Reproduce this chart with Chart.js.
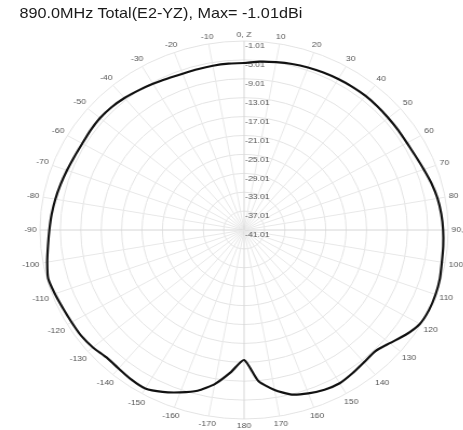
<!DOCTYPE html>
<html>
<head>
<meta charset="utf-8">
<script src="https://cdn.jsdelivr.net/npm/chart.js@4.4.0/dist/chart.umd.min.js"></script>
<style>
  html, body { margin: 0; padding: 0; background: #fff; overflow: hidden; }
  #wrap { position: relative; width: 429px; height: 430px; transform: scaleX(1.08); transform-origin: 0 0; }
  #title { position: absolute; left: 18px; top: 4px; font: 15px "Liberation Sans", Arial, sans-serif; color: #1a1a1a; white-space: nowrap; }
  canvas { position: absolute; left: 0; top: 0; }
</style>
</head>
<body>
<div id="wrap">
  <div id="title">890.0MHz Total(E2-YZ), Max= -1.01dBi</div>
  <canvas id="chart" width="429" height="430"></canvas>
</div>
<script>
// angle labels every 10 deg, clockwise from the top
const angleTicks = ['0, Z', '10', '20', '30', '40', '50', '60', '70', '80', '90, Y',
  '100', '110', '120', '130', '140', '150', '160', '170', '180',
  '-170', '-160', '-150', '-140', '-130', '-120', '-110', '-100', '-90',
  '-80', '-70', '-60', '-50', '-40', '-30', '-20', '-10'];

// ring labels (dBi)
const ringTicks = [-41.01, -37.01, -33.01, -29.01, -25.01, -21.01, -17.01, -13.01, -9.01, -5.01, -1.01];

// measured gain, every 5 deg from 0 to 355
const gainDbi = [
  -5.67, -5.24, -4.94, -4.63, -4.40, -4.25, -4.12, -4.03, -3.97, -4.03,
  -4.12, -4.15, -4.16, -3.95, -3.53, -2.98, -2.52, -2.22, -2.01, -1.84,
  -1.66, -1.29, -1.08, -1.01, -1.25, -2.35, -3.75, -4.70, -4.46, -3.99,
  -3.55, -3.72, -4.23, -4.95, -6.62, -8.95, -13.50,
  -10.75, -7.89, -5.79, -4.44, -3.19, -2.26, -2.41, -2.75, -2.88, -2.34,
  -2.02, -1.98, -1.84, -1.54, -1.26, -1.83, -2.43, -2.85, -3.15, -3.45,
  -3.78, -4.08, -4.31, -4.40, -4.26, -4.16, -4.26, -4.54, -4.94, -5.29,
  -5.62, -5.81, -5.79, -5.71, -5.67
];

// one spoke per data point, text only on the 10 deg spokes
const spokes = gainDbi.map((v, i) => (i % 2 ? '' : angleTicks[i / 2]));

const FONT = '"Liberation Sans", Arial, sans-serif';

const polarLabels = {
  id: 'polarLabels',
  beforeDatasetsDraw(chart) {
    const r = chart.scales.r;
    const ctx = chart.ctx;
    ctx.save();
    ctx.font = '8px ' + FONT;
    ctx.fillStyle = '#555';
    ctx.textAlign = 'left';
    ctx.textBaseline = 'middle';
    ringTicks.forEach(v => {
      const d = r.getDistanceFromCenterForValue(v);
      ctx.fillText(v.toFixed(2), r.xCenter + 1, r.yCenter - d + 5);
    });
    ctx.restore();
  },
  afterDraw(chart) {
    const r = chart.scales.r;
    const ctx = chart.ctx;
    ctx.save();
    ctx.font = '8px ' + FONT;
    ctx.fillStyle = '#555';
    ctx.textAlign = 'center';
    ctx.textBaseline = 'middle';
    angleTicks.forEach((text, i) => {
      const p = r.getPointPosition(i * 2, 100);
      const ux = (p.x - r.xCenter) / 100;
      const uy = (p.y - r.yCenter) / 100;
      const w = ctx.measureText(text).width;
      const half = Math.abs(ux) * w / 2 + Math.abs(uy) * 3.5;
      const q = r.getPointPosition(i * 2, r.drawingArea + 3 + half);
      ctx.fillText(text, q.x, q.y);
    });
    ctx.restore();
  }
};

new Chart(document.getElementById('chart'), {
  type: 'radar',
  data: {
    labels: spokes,
    datasets: [{
      data: gainDbi,
      borderColor: '#111',
      borderWidth: 2.2,
      pointRadius: 0,
      fill: false,
      tension: 0.2
    }]
  },
  options: {
    responsive: false,
    animation: false,
    devicePixelRatio: 1,
    layout: { padding: { left: 37, right: 14, top: 41, bottom: 11 } },
    plugins: { legend: { display: false }, tooltip: { enabled: false } },
    scales: {
      r: {
        min: -41.01,
        max: -1.01,
        afterBuildTicks: (scale) => {
          scale.ticks = ringTicks.map(v => ({ value: v }));
        },
        ticks: { display: false },
        pointLabels: { display: false },
        grid: { circular: true, color: '#e4e4e4', lineWidth: 1 },
        angleLines: {
          color: (c) => (c.index % 18 === 0 ? '#d6d6d6' : '#e8e8e8'),
          lineWidth: (c) => (c.index % 2 ? 0 : 1)
        }
      }
    }
  },
  plugins: [polarLabels]
});
</script>
</body>
</html>
